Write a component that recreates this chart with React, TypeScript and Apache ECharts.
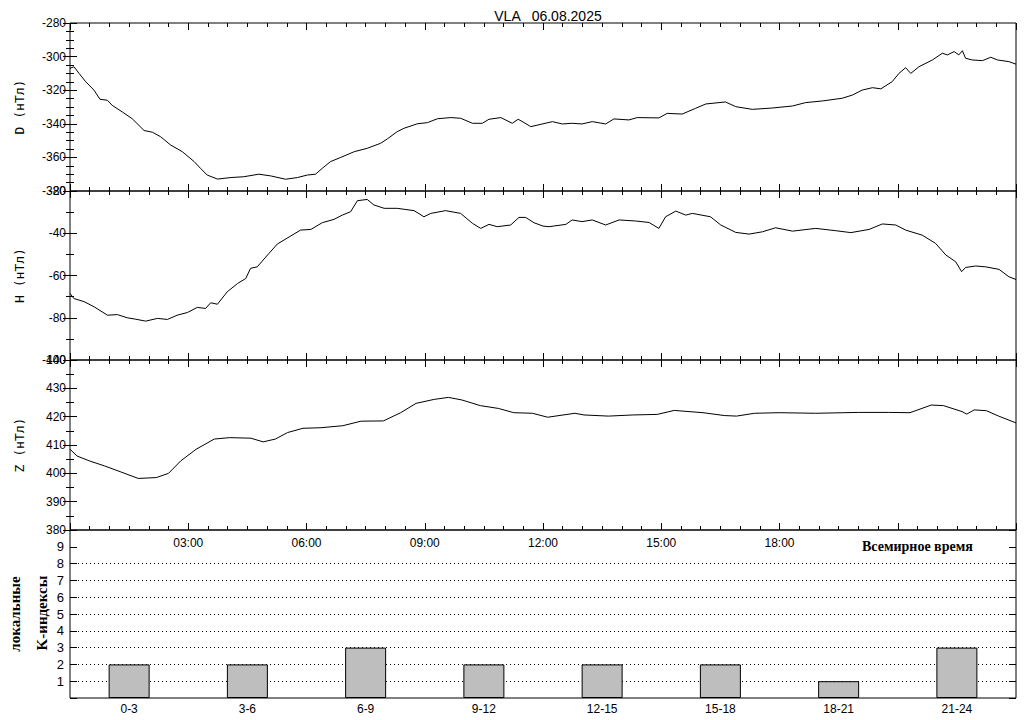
import React, { useEffect, useRef } from "react";
import * as echarts from "echarts";

// ---- Data ----
const title = "VLA   06.08.2025";

const dTimes = [0, 0.1, 0.23, 0.4, 0.61, 0.76, 0.95, 1.07, 1.33, 1.58, 1.88, 2.09, 2.3, 2.55, 2.85, 3.15, 3.31, 3.48, 3.74, 4.08, 4.41, 4.79, 5.09, 5.47, 5.77, 6.02, 6.23, 6.4, 6.61, 6.87, 7.21, 7.54, 7.88, 8.05, 8.3, 8.47, 8.81, 9.07, 9.32, 9.66, 9.91, 10.21, 10.46, 10.63, 10.93, 11.22, 11.37, 11.52, 11.69, 12.0, 12.24, 12.49, 12.74, 12.99, 13.25, 13.59, 13.8, 14.18, 14.39, 14.94, 15.15, 15.53, 15.87, 16.13, 16.63, 16.89, 17.31, 17.82, 18.33, 18.66, 19.09, 19.59, 19.85, 20.1, 20.36, 20.57, 20.86, 21.03, 21.2, 21.33, 21.54, 21.88, 22.13, 22.26, 22.43, 22.55, 22.64, 22.72, 22.89, 23.15, 23.36, 23.53, 23.82, 24.0];
const dValues = [-307, -306, -310, -315, -320, -325.4, -326, -329, -333, -337, -344, -345, -347.7, -352.6, -356.6, -362.5, -366.5, -370.5, -372.9, -372, -371.5, -370, -371, -373, -372, -370.5, -370, -366.5, -362.5, -360, -356.6, -354.6, -351.6, -349, -344.7, -342.7, -340, -339.3, -337, -336.3, -336.7, -339.7, -339.7, -337.3, -336.3, -339.7, -337.3, -339.3, -341.7, -340, -338.7, -340.1, -339.7, -340.1, -338.7, -340.1, -337.1, -337.7, -336.3, -336.5, -333.8, -334.2, -330.8, -328.2, -327, -329.8, -331.4, -330.6, -329.4, -327.4, -326.4, -324.8, -322.9, -319.9, -318.5, -319.2, -314.9, -310, -306.6, -310, -306, -302, -298, -299, -297, -299, -296.5, -301, -302, -302.4, -300.4, -302, -303, -304.5];

const hTimes = [0, 0.1, 0.36, 0.61, 0.95, 1.2, 1.45, 1.67, 1.92, 2.22, 2.47, 2.72, 2.98, 3.23, 3.44, 3.57, 3.74, 3.99, 4.25, 4.46, 4.58, 4.75, 5.05, 5.26, 5.6, 5.85, 6.11, 6.4, 6.7, 6.91, 7.12, 7.29, 7.54, 7.71, 7.97, 8.3, 8.73, 8.98, 9.15, 9.53, 9.91, 10.21, 10.42, 10.63, 10.84, 11.18, 11.39, 11.56, 11.77, 12.0, 12.15, 12.58, 12.74, 12.99, 13.25, 13.59, 13.93, 14.35, 14.69, 14.94, 15.11, 15.37, 15.62, 15.79, 16.25, 16.51, 16.89, 17.23, 17.57, 17.9, 18.33, 18.92, 19.43, 19.81, 20.27, 20.61, 20.95, 21.2, 21.62, 21.96, 22.22, 22.47, 22.62, 22.72, 22.98, 23.23, 23.57, 23.82, 24.0];
const hValues = [-68.5, -70.9, -72.4, -74.8, -78.8, -78.5, -80, -80.7, -81.6, -80.3, -80.8, -78.8, -77.5, -75.1, -75.6, -72.9, -73.6, -67.7, -63.8, -61.4, -56.6, -55.9, -49.5, -45.1, -41.3, -38.5, -38.2, -35, -33.4, -31.4, -29.8, -24.6, -24, -26.6, -28.2, -28.2, -29.3, -32.2, -30.6, -29.3, -30.6, -35.3, -37.7, -35.8, -36.9, -36.1, -32.5, -32.5, -35, -36.6, -36.9, -35.8, -33.7, -34.5, -33.7, -36.1, -33.7, -34.2, -34.9, -37.7, -32.2, -29.5, -31.4, -30.6, -32.2, -36.1, -39.6, -40.4, -39.3, -37.4, -39, -37.7, -38.8, -39.7, -38.2, -35.6, -36.1, -38.5, -40.9, -44.8, -50.3, -53.5, -58.2, -56.2, -55.5, -55.9, -57.1, -60.6, -61.9];

const zTimes = [0, 0.18, 0.49, 0.88, 1.27, 1.73, 2.19, 2.5, 2.81, 3.2, 3.66, 4.05, 4.59, 4.9, 5.21, 5.52, 5.91, 6.37, 6.92, 7.38, 7.95, 8.39, 8.78, 9.24, 9.6, 9.94, 10.41, 10.87, 11.26, 11.73, 12.12, 12.81, 13.04, 13.66, 14.28, 14.9, 15.33, 16.06, 16.6, 16.91, 17.37, 17.99, 18.92, 20.0, 20.77, 21.31, 21.85, 22.16, 22.63, 22.75, 22.94, 23.25, 23.56, 24.0];
const zValues = [408.5, 406.1, 404.4, 402.6, 400.6, 398.2, 398.5, 400, 404.4, 408.5, 412.1, 412.6, 412.4, 411.1, 412.1, 414.4, 415.9, 416.1, 416.8, 418.4, 418.5, 421.4, 424.7, 426.1, 426.8, 425.9, 423.9, 422.9, 421.4, 421.2, 419.8, 421.2, 420.6, 420.2, 420.6, 420.8, 422.2, 421.4, 420.4, 420.2, 421.2, 421.4, 421.2, 421.5, 421.5, 421.4, 424.1, 423.9, 421.8, 420.9, 422.4, 422.1, 420.2, 417.8];

const kLabels = ["0-3", "3-6", "6-9", "9-12", "12-15", "15-18", "18-21", "21-24"];
const kValues = [2, 2, 3, 2, 2, 2, 1, 3];
const kGridLevels = [1, 2, 3, 4, 5, 6, 7, 8];
const timeLabelHours = [3, 6, 9, 12, 15, 18];

const dAxisName = "D (нТл)";
const hAxisName = "H (нТл)";
const zAxisName = "Z (нТл)";
const timeAxisName = "Всемирное время";
const kName1 = "локальные";
const kName2 = "K-индексы";

// ---- Layout ----
const L = 70;
const R = 8;
const grids = [
  { top: 23, height: 168 },
  { top: 191, height: 169 },
  { top: 360, height: 170 },
  { top: 530, height: 168 },
];

const FONT = "Liberation Sans";
const zip = (t: number[], v: number[]) => t.map((x, i) => [x, v[i]]);

export default function App() {
  const ref = useRef<HTMLDivElement>(null);
  useEffect(() => {
    if (!ref.current) return;
    const chart = echarts.init(ref.current, null, { renderer: "svg" });

    const gridOpts = grids.map((g) => ({
      left: L,
      right: R,
      top: g.top,
      height: g.height,
      show: true,
      borderColor: "#000",
      borderWidth: 1,
      backgroundColor: "transparent",
    }));

    const timeAxis = (gridIndex: number, position: string, labels: boolean) => ({
      type: "value",
      gridIndex,
      position,
      min: 0,
      max: 24,
      interval: 3,
      axisLine: { show: false },
      splitLine: { show: false },
      axisTick: { show: true, inside: true, length: 7, lineStyle: { color: "#000" } },
      minorTick: { show: true, splitNumber: 6, length: 4, lineStyle: { color: "#000" } },
      axisLabel: {
        show: labels,
        margin: 7,
        color: "#000",
        fontFamily: FONT,
        fontSize: 12,
        formatter: (v: number) =>
          timeLabelHours.indexOf(v) >= 0 ? `${String(v).padStart(2, "0")}:00` : "",
      },
    });

    const valueAxis = (
      gridIndex: number,
      position: string,
      min: number,
      max: number,
      interval: number,
      minorSplit: number,
      name: string
    ) => ({
      type: "value",
      gridIndex,
      position,
      min,
      max,
      interval,
      name: position === "left" ? name : "",
      nameLocation: "middle",
      nameRotate: 90,
      nameGap: 44,
      nameTextStyle: { color: "#000", fontFamily: "DejaVu Sans Mono", fontSize: 13 },
      axisLine: { show: false },
      splitLine: { show: false },
      axisTick: { show: true, inside: true, length: 7, lineStyle: { color: "#000" } },
      minorTick: { show: minorSplit > 1, splitNumber: minorSplit, length: 4, lineStyle: { color: "#000" } },
      axisLabel: {
        show: position === "left",
        margin: 4,
        color: "#000",
        fontFamily: FONT,
        fontSize: 12,
        showMinLabel: true,
        showMaxLabel: true,
      },
    });

    const kAxis = (position: string) => ({
      type: "value",
      gridIndex: 3,
      position,
      min: 0,
      max: 10,
      interval: 1,
      axisLine: { show: false },
      splitLine: { show: false },
      axisTick: { show: true, inside: true, length: 7, lineStyle: { color: "#000" } },
      axisLabel: {
        show: position === "left",
        margin: 6,
        color: "#000",
        fontFamily: FONT,
        fontSize: 13,
        formatter: (v: number) => (v <= 0 || v >= 10 ? "" : String(v)),
      },
    });

    const lineSeries = (idx: number, data: number[][]) => ({
      type: "line",
      xAxisIndex: idx,
      yAxisIndex: idx,
      data,
      symbol: "none",
      lineStyle: { color: "#000", width: 1 },
      z: 3,
    });

    chart.setOption({
      animation: false,
      backgroundColor: "#fff",
      title: {
        text: title,
        left: L + (1024 - L - R) / 2,
        textAlign: "center",
        top: 4,
        textStyle: { color: "#000", fontFamily: FONT, fontSize: 14, fontWeight: "normal" },
      },
      grid: gridOpts,
      xAxis: [
        timeAxis(0, "bottom", false),
        timeAxis(0, "top", false),
        timeAxis(1, "bottom", false),
        timeAxis(1, "top", false),
        timeAxis(2, "bottom", true),
        timeAxis(2, "top", false),
        {
          type: "category",
          gridIndex: 3,
          position: "bottom",
          data: kLabels,
          axisLine: { show: false },
          axisTick: { show: false },
          splitLine: { show: false },
          axisLabel: { color: "#000", fontFamily: FONT, fontSize: 12, margin: 5 },
        },
      ],
      yAxis: [
        valueAxis(0, "left", -380, -280, 20, 4, dAxisName),
        valueAxis(0, "right", -380, -280, 20, 4, ""),
        valueAxis(1, "left", -100, -20, 20, 2, hAxisName),
        valueAxis(1, "right", -100, -20, 20, 2, ""),
        valueAxis(2, "left", 380, 440, 10, 2, zAxisName),
        valueAxis(2, "right", 380, 440, 10, 2, ""),
        kAxis("left"),
        kAxis("right"),
      ],
      series: [
        lineSeries(0, zip(dTimes, dValues)),
        lineSeries(2, zip(hTimes, hValues)),
        lineSeries(4, zip(zTimes, zValues)),
        {
          type: "bar",
          xAxisIndex: 6,
          yAxisIndex: 6,
          data: kValues,
          barWidth: 41,
          itemStyle: { color: "#bebebe", borderColor: "#000", borderWidth: 1 },
          z: 3,
          markLine: {
            silent: true,
            symbol: "none",
            label: { show: false },
            lineStyle: { color: "#000", width: 1, type: [1, 3] },
            data: kGridLevels.map((y) => ({ yAxis: y })),
            z: 1,
          },
        },
      ],
      graphic: [
        {
          type: "text",
          left: 862,
          top: 539,
          style: {
            text: timeAxisName,
            fill: "#000",
            fontFamily: "Liberation Serif",
            fontWeight: "bold",
            fontSize: 14,
          },
        },
        {
          type: "text",
          x: 15,
          y: 614,
          rotation: Math.PI / 2,
          style: {
            text: kName1,
            fill: "#000",
            fontFamily: "Liberation Serif",
            fontWeight: "bold",
            fontSize: 15,
            align: "center",
            verticalAlign: "middle",
          },
        },
        {
          type: "text",
          x: 42,
          y: 613,
          rotation: Math.PI / 2,
          style: {
            text: kName2,
            fill: "#000",
            fontFamily: "Liberation Serif",
            fontWeight: "bold",
            fontSize: 15,
            align: "center",
            verticalAlign: "middle",
          },
        },
      ],
    });
    return () => chart.dispose();
  }, []);

  return (
    <div
      ref={ref}
      style={{ position: "absolute", left: 0, top: 0, width: 1024, height: 720 }}
    />
  );
}
